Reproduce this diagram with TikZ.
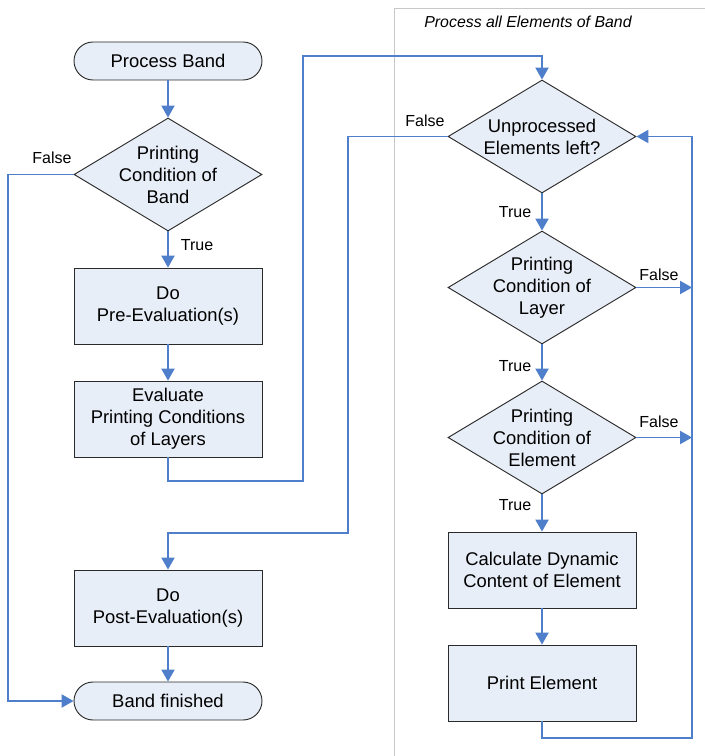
\documentclass[tikz,border=0pt]{standalone}
\usepackage{fontspec}
\setmainfont{Liberation Sans}
\usetikzlibrary{shapes.geometric,arrows.meta}
\definecolor{lineblue}{HTML}{4F7FCA}
\definecolor{boxfill}{HTML}{E8EEF7}
\definecolor{boxdraw}{HTML}{2A2A2A}
\definecolor{framegray}{HTML}{C8C8C8}
\tikzset{
  base/.style={draw=boxdraw, fill=boxfill, line width=0.7pt, font=\fontsize{13.8}{16.5}\selectfont, align=center, inner sep=0pt},
  term/.style={base, rectangle, rounded corners=14.25pt, minimum width=141pt, minimum height=28.5pt},
  proc/.style={base, rectangle, minimum width=141pt, minimum height=57pt},
  dia/.style={base, diamond, minimum width=141pt, minimum height=84.75pt},
  diatext/.style={font=\fontsize{13.8}{16.5}\selectfont, align=center, inner sep=0pt},
  lbl/.style={font=\fontsize{12}{14}\selectfont, inner sep=0pt},
  arr/.style={draw=lineblue, line width=0.8pt, -{Triangle[length=9pt,width=10pt]}},
}
\begin{document}
\begin{tikzpicture}[x=0.75pt,y=-0.75pt]
\useasboundingbox (0,0) rectangle (705,756);
% group frame
\draw[framegray, line width=0.7pt] (394,756) -- (394,8) -- (705,8);
\node[font=\fontsize{11.9}{14}\selectfont\itshape, inner sep=0pt] (gtitle) at (528,22) {Process all Elements of Band};
% left column
\node[term] (pb) at (168,61) {Process Band};
\node[dia] (d1) at (168,174.5) {};
\node[diatext] (d1t) at (d1) {Printing\\Condition of\\Band};
\node[proc] (pre) at (168,306) {Do\\Pre-Evaluation(s)};
\node[proc] (eval) at (168,419) {Evaluate\\Printing Conditions\\of Layers};
\node[proc] (post) at (168,608) {Do\\Post-Evaluation(s)};
\node[term] (fin) at (168,701) {Band finished};
% right column
\node[dia] (u) at (542,136.5) {};
\node[diatext] (ut) at (u) {Unprocessed\\Elements left?};
\node[dia] (d2) at (542,287.5) {};
\node[diatext] (d2t) at (d2) {Printing\\Condition of\\Layer};
\node[dia] (d3) at (542,437.5) {};
\node[diatext] (d3t) at (d3) {Printing\\Condition of\\Element};
\node[proc] (calc) at (542,570) {Calculate Dynamic\\Content of Element};
\node[proc] (pe) at (542,683) {Print Element};
\coordinate (loopx) at (692,0);
% connectors
\draw[arr] (pb) -- (d1.north);
\draw[arr] (d1.south) -- (pre.north);
\draw[arr] (pre) -- (eval);
\draw[arr] (eval.south) |- (303,481) -- (303,56) -| (u.north);
\draw[arr] (d1.west) -| (8,440) |- (fin.west);
\draw[arr] (post) -- (fin);
\draw[arr] (u.west) -| (348,533) -| (post.north);
\draw[arr] (u.south) -- (d2.north);
\draw[arr] (d2.south) -- (d3.north);
\draw[arr] (d3.south) -- (calc.north);
\draw[arr] (calc) -- (pe);
\draw[arr] (d2.east) -- (d2.east -| loopx);
\draw[arr] (d3.east) -- (d3.east -| loopx);
\draw[arr] (pe.south) |- (692,738) |- (u.east);
% labels
\node[lbl] (l1) at (52,158) {False};
\node[lbl] (l2) at (197,245) {True};
\node[lbl] (l3) at (425,121) {False};
\node[lbl] (l4) at (515,212) {True};
\node[lbl] (l5) at (659,275) {False};
\node[lbl] (l6) at (515,366) {True};
\node[lbl] (l7) at (659,422) {False};
\node[lbl] (l8) at (515,505) {True};
\end{tikzpicture}
\end{document}
